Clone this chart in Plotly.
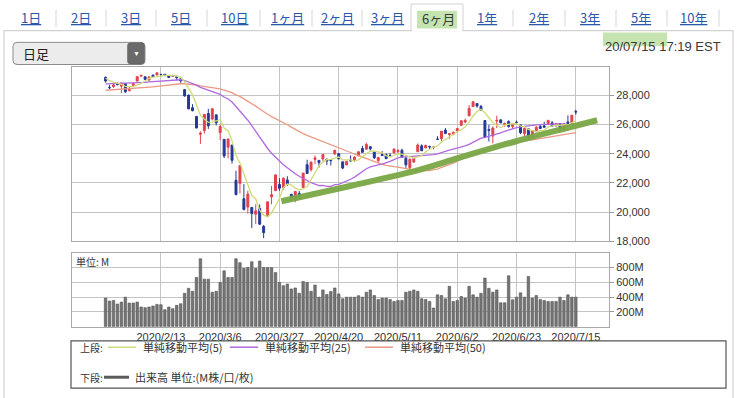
import plotly.graph_objects as go
import pandas as pd

W, H = 749, 398

# ---------------- data ----------------
month_days = {
    1: [24, 27, 28, 29, 30, 31],
    2: [3, 4, 5, 6, 7, 10, 11, 12, 13, 14, 18, 19, 20, 21, 24, 25, 26, 27, 28],
    3: [2, 3, 4, 5, 6, 9, 10, 11, 12, 13, 16, 17, 18, 19, 20, 23, 24, 25, 26, 27, 30, 31],
    4: [1, 2, 3, 6, 7, 8, 9, 13, 14, 15, 16, 17, 20, 21, 22, 23, 24, 27, 28, 29, 30],
    5: [1, 4, 5, 6, 7, 8, 11, 12, 13, 14, 15, 18, 19, 20, 21, 22, 26, 27, 28, 29],
    6: [1, 2, 3, 4, 5, 8, 9, 10, 11, 12, 15, 16, 17, 18, 19, 22, 23, 24, 25, 26, 29, 30],
    7: [1, 2, 6, 7, 8, 9, 10, 13, 14, 15],
}
dates = [f"2020/{m}/{d}" for m, ds in month_days.items() for d in ds]

open_ = [29242, 28542, 28607, 28820, 28640, 28813, 28319, 28697, 28987, 29327,
         29286, 29060, 29400, 29405, 29436, 29455, 29357, 29316, 29297, 29140,
         28403, 28024, 27160, 26555, 25338, 25590, 26762, 26384, 26671, 25458,
         24992, 24453, 24604, 22184, 21974, 20917, 20345, 20326, 19860, 20253,
         19028, 19722, 21051, 21468, 21898, 21679, 22208, 21227, 20819, 21285,
         21694, 23253, 22910, 23612, 23548, 23651, 23635, 23604, 24002, 24013,
         23449, 23235, 23576, 23585, 23854, 24364, 24313, 24484, 24120, 23540,
         23965, 23961, 23889, 24059, 24150, 24246, 23696, 23036, 23441, 24143,
         24549, 24399, 24504, 24444, 25012, 25036, 25624, 25321, 25343, 25574,
         25951, 26175, 26598, 27233, 27448, 27252, 26283, 25659, 25224, 26250,
         26327, 26010, 26213, 25879, 26163, 25984, 25384, 25712, 25152, 25512,
         25879, 25917, 26053, 26124, 25983, 26066, 25664, 26183, 25981, 26893]
high = [29304, 28723, 28809, 28892, 28879, 28813, 28630, 28896, 29305, 29408,
        29286, 29277, 29416, 29568, 29497, 29455, 29367, 29408, 29370, 29140,
        28403, 28068, 27402, 26608, 25539, 26706, 27084, 27102, 26671, 25995,
        24992, 25020, 24604, 22837, 23190, 21926, 21469, 20326, 20542, 20532,
        19122, 20705, 21797, 22596, 22328, 22378, 22464, 21227, 21452, 21447,
        22680, 23595, 23450, 23891, 23548, 23983, 23635, 23604, 24264, 24053,
        23449, 23519, 23887, 23831, 24188, 24545, 24765, 24484, 24120, 23762,
        24185, 24021, 24049, 24342, 24312, 24347, 23815, 23680, 23694, 24708,
        24646, 24625, 24553, 24485, 25204, 25548, 25764, 25425, 25523, 25751,
        26273, 26419, 27338, 27580, 27448, 27355, 26283, 25994, 25883, 26611,
        26346, 26140, 26304, 26044, 26285, 25984, 25745, 25712, 25600, 25904,
        26018, 26204, 26331, 26241, 26071, 26066, 26086, 26631, 26668, 27027]
low = [28879, 28440, 28531, 28716, 28169, 28169, 28319, 28697, 28964, 29262,
       29056, 28999, 29240, 29405, 29326, 29311, 29193, 29316, 29031, 28871,
       27921, 27057, 26915, 25759, 24681, 25392, 25707, 26287, 25944, 24954,
       23707, 23690, 23328, 21154, 21285, 20116, 19900, 18917, 19178, 19121,
       18214, 19651, 20542, 21468, 21470, 21522, 21808, 20735, 20677, 20863,
       21694, 22631, 22785, 23302, 23051, 23474, 23222, 23200, 23915, 23631,
       22942, 23222, 23474, 23464, 23854, 24084, 24313, 24196, 23645, 23361,
       23847, 23653, 23833, 24059, 24049, 23764, 23035, 22789, 23365, 24143,
       24200, 24399, 24332, 24300, 24963, 24862, 25340, 25030, 25275, 25485,
       25951, 26122, 26598, 27233, 27163, 26968, 25079, 24843, 24721, 25765,
       26104, 25846, 25788, 25724, 26048, 25351, 25127, 24969, 25071, 25512,
       25706, 25795, 26002, 25885, 25832, 25583, 25565, 25993, 25888, 26683]
close = [28989, 28535, 28723, 28734, 28859, 28256, 28399, 28807, 29290, 29380,
         29103, 29276, 29276, 29551, 29423, 29398, 29232, 29348, 29219, 28992,
         27961, 27081, 26957, 25766, 25409, 26703, 25917, 27091, 26121, 25865,
         23851, 25018, 23553, 21200, 23185, 20189, 21237, 19899, 20087, 19174,
         18592, 20704, 21200, 22552, 21637, 22327, 21917, 20944, 21413, 21053,
         22680, 22654, 23434, 23719, 23390, 23950, 23505, 23538, 24242, 23650,
         23019, 23475, 23516, 23775, 24134, 24102, 24634, 24346, 23724, 23750,
         23883, 23665, 23876, 24331, 24222, 23765, 23248, 23625, 23685, 24597,
         24207, 24576, 24474, 24465, 24995, 25548, 25401, 25383, 25475, 25742,
         26270, 26282, 27111, 27572, 27272, 26990, 25128, 25606, 25763, 26290,
         26120, 26080, 25871, 26025, 26156, 25445, 25745, 25016, 25596, 25813,
         25735, 25827, 26287, 25890, 26067, 25706, 26075, 26086, 26643, 26870]
# closes of the 49 sessions before the first candle (moving-average warm-up)
close_prior = [27691, 27784, 27782, 28005, 28036, 27934, 27821, 27766, 27876, 28066,
               28122, 28164, 28051, 27783, 27503, 27650, 27678, 28015, 27910, 27882,
               27911, 28132, 28135, 28236, 28267, 28239, 28377, 28455, 28552, 28515,
               28621, 28645, 28462, 28538, 28869, 28635, 28703, 28584, 28745, 28957,
               28824, 28907, 28940, 29030, 29298, 29348, 29196, 29186, 29160]
volume_m = [387, 347, 356, 307, 333, 400, 320, 320, 333, 267, 258, 267, 280, 302, 298, 231, 267, 244, 289, 311,
            453, 520, 480, 667, 920, 644, 644, 467, 480, 600, 756, 667, 667, 920, 867, 791, 800, 880, 791, 889,
            800, 800, 800, 733, 600, 556, 578, 511, 524, 453, 613, 600, 480, 564, 400, 498, 436, 476, 524, 444,
            378, 400, 400, 400, 420, 400, 467, 498, 422, 369, 387, 387, 369, 342, 356, 356, 467, 480, 498, 480,
            378, 369, 342, 253, 431, 422, 378, 547, 342, 356, 409, 387, 547, 431, 400, 453, 658, 520, 467, 498,
            324, 324, 689, 364, 400, 458, 400, 680, 387, 422, 369, 356, 342, 342, 342, 400, 356, 431, 400, 400]

tick_labels = ["2020/2/13", "2020/3/6", "2020/3/27", "2020/4/20",
               "2020/5/11", "2020/6/2", "2020/6/23", "2020/7/15"]
price_ticks = [18000, 20000, 22000, 24000, 26000, 28000]
vol_ticks = [200, 400, 600, 800]
vol_tick_text = ["200M", "400M", "600M", "800M"]

# hand-drawn green support line (session position, price)
trend_pos = [44.5, 61.9, 79.6, 88.9, 103.9, 115.0, 124.4]
trend_val = [20745, 21794, 22919, 23680, 24860, 25650, 26300]

tabs = ["1日", "2日", "3日", "5日", "10日", "1ヶ月", "2ヶ月", "3ヶ月", "6ヶ月",
        "1年", "2年", "3年", "5年", "10年"]
selected_tab = "6ヶ月"

# ---------------- derived ----------------
xs = list(range(len(dates)))
tick_pos = [dates.index(t) for t in tick_labels]
full_close = pd.Series(close_prior + close, dtype=float)
ma5 = full_close.rolling(5).mean().iloc[len(close_prior):].tolist()
ma25 = full_close.rolling(25).mean().iloc[len(close_prior):].tolist()
ma50 = full_close.rolling(50).mean().iloc[len(close_prior):].tolist()

RED = "#e2404c"
BLUE = "#223a96"
C_MA5 = "#cfdc78"
C_MA25 = "#b069df"
C_MA50 = "#ea9a84"
C_TREND = "#79a846"
GRID = "#c4c4c4"
BORDER = "#a8a8a8"
TXT = "#333333"
JP = "Noto Sans CJK JP"
LAT = "Liberation Sans"


def X(px):
    return px / W


def Y(py):
    return 1 - py / H


fig = go.Figure()
fig.add_trace(go.Candlestick(
    x=xs, open=open_, high=high, low=low, close=close,
    increasing=dict(line=dict(color=RED, width=1), fillcolor=RED),
    decreasing=dict(line=dict(color=BLUE, width=1), fillcolor=BLUE),
    whiskerwidth=0, showlegend=False, hoverinfo="skip", xaxis="x", yaxis="y"))
for ys, col in [(ma50, C_MA50), (ma25, C_MA25), (ma5, C_MA5)]:
    fig.add_trace(go.Scatter(x=xs, y=ys, mode="lines", line=dict(color=col, width=1.3),
                             showlegend=False, hoverinfo="skip", xaxis="x", yaxis="y"))
fig.add_trace(go.Scatter(x=trend_pos, y=trend_val, mode="lines",
                         line=dict(color=C_TREND, width=6, shape="spline", smoothing=0.8),
                         opacity=0.95, showlegend=False, hoverinfo="skip", xaxis="x", yaxis="y"))
fig.add_trace(go.Bar(x=xs, y=volume_m, width=0.64,
                     marker=dict(color="#747474", line=dict(color="#555555", width=0.6)),
                     showlegend=False, hoverinfo="skip", xaxis="x2", yaxis="y2"))

xr = [-8.5, 127.4]
common_x = dict(range=xr, tickvals=tick_pos, showgrid=True, gridcolor=GRID, gridwidth=1,
                zeroline=False, showline=True, mirror=True, linecolor=BORDER, linewidth=1,
                ticks="", fixedrange=True)
common_y = dict(side="right", showgrid=True, gridcolor=GRID, gridwidth=1, zeroline=False,
                showline=True, mirror=True, linecolor=BORDER, linewidth=1,
                ticks="outside", ticklen=4, tickcolor="#999999",
                tickfont=dict(family=LAT, size=11, color=TXT), fixedrange=True)

fig.update_layout(
    width=W, height=H, margin=dict(l=0, r=0, t=0, b=0),
    paper_bgcolor="white", plot_bgcolor="white", showlegend=False,
    xaxis=dict(domain=[X(72), X(609)], anchor="y", showticklabels=False,
               rangeslider=dict(visible=False), **common_x),
    yaxis=dict(domain=[Y(245), Y(68.5)], anchor="x", range=[18000, 29920],
               tickvals=price_ticks, tickformat=",", **common_y),
    xaxis2=dict(domain=[X(72), X(609)], anchor="y2", ticktext=tick_labels,
                showticklabels=True, tickfont=dict(family=LAT, size=11, color=TXT), **common_x),
    yaxis2=dict(domain=[Y(331.7), Y(256.7)], anchor="x2", range=[0, 1000],
                tickvals=vol_ticks, ticktext=vol_tick_text, **common_y),
    bargap=0,
)

shapes = []
ann = []

# panel
shapes.append(dict(type="rect", xref="paper", yref="paper", x0=X(4), x1=X(733), y0=Y(420), y1=Y(31),
                   line=dict(color="#d2d2d2", width=1.2), fillcolor="white", layer="below"))

# tabs
tab_centers = [31, 81, 131, 181, 234, 287, 337, 387, 438, 487, 539, 590, 641, 693]
separators = [56, 106, 156, 207, 260, 312, 362, 513, 565, 616, 667, 719]
for sx in separators:
    shapes.append(dict(type="line", xref="paper", yref="paper", x0=X(sx), x1=X(sx), y0=Y(10), y1=Y(27),
                       line=dict(color="#d6d6d6", width=1)))
shapes.append(dict(type="rect", xref="paper", yref="paper", x0=X(411), x1=X(463), y0=Y(31), y1=Y(4),
                   line=dict(color="#d2d2d2", width=1), fillcolor="white"))
shapes.append(dict(type="line", xref="paper", yref="paper", x0=X(411.8), x1=X(462.2), y0=Y(31), y1=Y(31),
                   line=dict(color="white", width=2)))
shapes.append(dict(type="rect", xref="paper", yref="paper", x0=X(417), x1=X(457), y0=Y(29), y1=Y(11),
                   line=dict(width=0), fillcolor="rgba(150,205,110,0.55)"))
for name, cx in zip(tabs, tab_centers):
    if name == selected_tab:
        ann.append(dict(text=name, x=X(cx), y=Y(19), xref="paper", yref="paper", showarrow=False,
                        xanchor="center", yanchor="middle",
                        font=dict(family=JP, size=13, color="#3a3a3a")))
    else:
        ann.append(dict(text=name, x=X(cx), y=Y(18), xref="paper", yref="paper", showarrow=False,
                        xanchor="center", yanchor="middle",
                        font=dict(family=JP, size=13, color="#2b58a8", lineposition="under")))

# dropdown
def rrect(x0, y0, x1, y1, r):
    rx, ry = r / W, r / H
    a0, b0, a1, b1 = X(x0), Y(y0), X(x1), Y(y1)
    return (f"M{a0 + rx},{b0} L{a1 - rx},{b0} Q{a1},{b0} {a1},{b0 - ry} "
            f"L{a1},{b1 + ry} Q{a1},{b1} {a1 - rx},{b1} L{a0 + rx},{b1} "
            f"Q{a0},{b1} {a0},{b1 + ry} L{a0},{b0 - ry} Q{a0},{b0} {a0 + rx},{b0} Z")

shapes.append(dict(type="path", xref="paper", yref="paper", path=rrect(13, 43, 145, 65.5, 4),
                   line=dict(color="#8c8c8c", width=1), fillcolor="#ececec"))
shapes.append(dict(type="path", xref="paper", yref="paper", path=rrect(127.5, 43.5, 144.5, 65, 3),
                   line=dict(color="#5a5a5a", width=0.5), fillcolor="#6a6a6a"))
ann.append(dict(text="▼", x=X(136), y=Y(54), xref="paper", yref="paper", showarrow=False,
                xanchor="center", yanchor="middle", font=dict(family=LAT, size=7, color="white")))
ann.append(dict(text="日足", x=X(21), y=Y(54.5), xref="paper", yref="paper", showarrow=False,
                xanchor="left", yanchor="middle", font=dict(family=JP, size=13, color="#222222")))

# timestamp
shapes.append(dict(type="rect", xref="paper", yref="paper", x0=X(603), x1=X(667), y0=Y(47), y1=Y(33),
                   line=dict(width=0), fillcolor="rgba(150,205,110,0.55)"))
ann.append(dict(text="20/07/15 17:19 EST", x=X(723), y=Y(47), xref="paper", yref="paper",
                showarrow=False, xanchor="right", yanchor="middle",
                font=dict(family=LAT, size=13, color="#3a3a3a")))

# volume unit label
ann.append(dict(text="単位: M", x=X(74), y=Y(265), xref="paper", yref="paper", showarrow=False,
                xanchor="left", yanchor="middle", font=dict(family=JP, size=10, color=TXT)))

# legend box
shapes.append(dict(type="rect", xref="paper", yref="paper", x0=X(71), x1=X(726), y0=Y(394), y1=Y(346),
                   line=dict(color="#555555", width=1.2), fillcolor="rgba(0,0,0,0)"))
row1, row2 = 352.5, 383
ann.append(dict(text="上段:", x=X(78), y=Y(row1), xref="paper", yref="paper", showarrow=False,
                xanchor="left", yanchor="middle", font=dict(family=JP, size=10, color=TXT)))
ann.append(dict(text="下段:", x=X(78), y=Y(row2), xref="paper", yref="paper", showarrow=False,
                xanchor="left", yanchor="middle", font=dict(family=JP, size=10, color=TXT)))
legend_items = [(108, 136, 141, C_MA5, "単純移動平均(5)"),
                (230, 258, 263, C_MA25, "単純移動平均(25)"),
                (365, 393, 398, C_MA50, "単純移動平均(50)")]
for lx0, lx1, tx, col, label in legend_items:
    shapes.append(dict(type="line", xref="paper", yref="paper", x0=X(lx0), x1=X(lx1),
                       y0=Y(row1), y1=Y(row1), line=dict(color=col, width=1.5)))
    ann.append(dict(text=label, x=X(tx), y=Y(row1), xref="paper", yref="paper", showarrow=False,
                    xanchor="left", yanchor="middle", font=dict(family=JP, size=11, color=TXT)))
shapes.append(dict(type="line", xref="paper", yref="paper", x0=X(104), x1=X(129),
                   y0=Y(row2), y1=Y(row2), line=dict(color="#5a5a5a", width=3)))
ann.append(dict(text="出来高 単位:(M株/口/枚)", x=X(133), y=Y(row2), xref="paper", yref="paper",
                showarrow=False, xanchor="left", yanchor="middle",
                font=dict(family=JP, size=11, color=TXT)))

fig.update_layout(shapes=shapes, annotations=ann)

fig.write_html("out.html", config=dict(displayModeBar=False, staticPlot=True),
               post_script="document.body.style.margin='0';document.body.style.overflow='hidden';")
